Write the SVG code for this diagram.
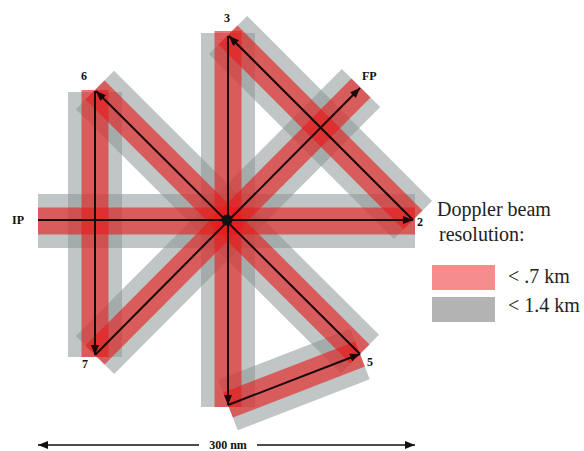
<svg xmlns="http://www.w3.org/2000/svg" width="584" height="451" viewBox="0 0 584 451">
<style>
.g{stroke:#8c9696;stroke-opacity:0.55;stroke-width:54;fill:none;stroke-linecap:butt}
.r{stroke:#e81c1c;stroke-opacity:0.62;stroke-width:27;fill:none;stroke-linecap:butt}
.k{stroke:#1a0808;stroke-width:2;fill:none;marker-end:url(#ah)}
.lb{font-family:"Liberation Serif",serif;font-weight:bold;font-size:12px;fill:#111}
.tx{font-family:"Liberation Serif",serif;font-size:20px;fill:#222}
</style>
<defs>
<marker id="ah" viewBox="0 0 10 8" refX="10" refY="4" markerWidth="10" markerHeight="8" markerUnits="userSpaceOnUse" orient="auto">
<path d="M0,0 L10,4 L0,8 Z" fill="#1a0808"/>
</marker>
<marker id="ah2" viewBox="0 0 10 8" refX="10" refY="4" markerWidth="10" markerHeight="8" markerUnits="userSpaceOnUse" orient="auto-start-reverse">
<path d="M0,0 L10,4 L0,8 Z" fill="#111"/>
</marker>
</defs>
<rect width="584" height="451" fill="#fff"/>
<g id="bands-gray">
<line class="g" x1="38" y1="221" x2="415" y2="221"/>
<line class="g" x1="413" y1="220" x2="228" y2="35"/>
<line class="g" x1="228" y1="33" x2="228" y2="407"/>
<line class="g" x1="228" y1="405" x2="360" y2="354"/>
<line class="g" x1="360" y1="354" x2="95" y2="90"/>
<line class="g" x1="95" y1="92" x2="95" y2="357"/>
<line class="g" x1="95" y1="355" x2="361" y2="88"/>
</g>
<g id="bands-red">
<line class="r" x1="38" y1="221" x2="415" y2="221"/>
<line class="r" x1="413" y1="220" x2="228" y2="35"/>
<line class="r" x1="228" y1="31" x2="228" y2="407"/>
<line class="r" x1="228" y1="405" x2="360" y2="354"/>
<line class="r" x1="360" y1="354" x2="95" y2="90"/>
<line class="r" x1="95" y1="90" x2="95" y2="357"/>
<line class="r" x1="95" y1="355" x2="361" y2="88"/>
</g>
<g id="connectors">
<line class="k" x1="38" y1="220" x2="413" y2="220"/>
<line class="k" x1="413" y1="220" x2="229" y2="36"/>
<line class="k" x1="228" y1="36" x2="228" y2="405"/>
<line class="k" x1="228" y1="405" x2="360" y2="354"/>
<line class="k" x1="360" y1="354" x2="96" y2="91"/>
<line class="k" x1="95" y1="91" x2="95" y2="355"/>
<line class="k" x1="95" y1="355" x2="360" y2="88"/>
</g>
<g id="center"><circle cx="227" cy="220" r="5.5" fill="#111"/></g>
<g id="node-IP"><text class="lb" x="12" y="224" font-size="13">IP</text></g>
<g id="node-2"><text class="lb" x="417" y="226">2</text></g>
<g id="node-3"><text class="lb" x="224" y="22">3</text></g>
<g id="node-6"><text class="lb" x="81" y="80">6</text></g>
<g id="node-7"><text class="lb" x="82" y="368">7</text></g>
<g id="node-5"><text class="lb" x="367" y="366">5</text></g>
<g id="node-FP"><text class="lb" x="362" y="80">FP</text></g>
<g id="legend">
<text class="tx" x="437" y="216" font-size="21">Doppler beam</text>
<text class="tx" x="439" y="241" font-size="21">resolution:</text>
<rect x="432" y="265" width="63" height="25" fill="#f78c8c"/>
<rect x="432" y="297" width="63" height="25" fill="#b3b3b3"/>
<text class="tx" x="508" y="283">&lt; .7 km</text>
<text class="tx" x="508" y="312">&lt; 1.4 km</text>
</g>
<g id="scale">
<line x1="38" y1="445" x2="199" y2="445" stroke="#111" stroke-width="1.5" marker-start="url(#ah2)"/>
<line x1="257" y1="445" x2="415" y2="445" stroke="#111" stroke-width="1.5" marker-end="url(#ah2)"/>
<text class="lb" x="228" y="449" text-anchor="middle" font-size="13">300 nm</text>
</g>
</svg>
